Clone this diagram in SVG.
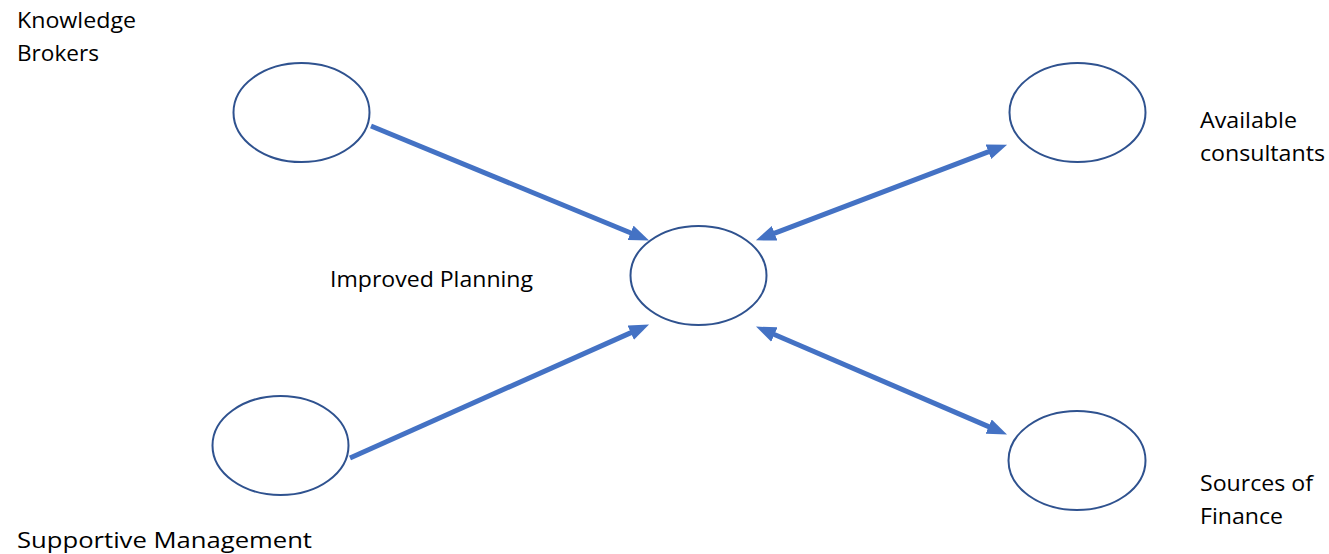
<svg xmlns="http://www.w3.org/2000/svg" width="1329" height="554" viewBox="0 0 1329 554">
  <style>
    .node { fill: #ffffff; stroke: #2f528f; stroke-width: 2; }
    .link { stroke: #4472c4; stroke-width: 5; fill: none; }
    .label { font-family: "Open Sans", "Liberation Sans", sans-serif; font-size: 21px; fill: #000000; }
  </style>
  <defs>
    <marker id="head" markerUnits="userSpaceOnUse" markerWidth="20" markerHeight="16" refX="8" refY="7" orient="auto-start-reverse" viewBox="0 0 18 14">
      <path d="M0,0 L18,7 L0,14 z" fill="#4472c4"/>
    </marker>
  </defs>

  <rect width="1329" height="554" fill="#ffffff"/>

  <g id="connectors">
    <line class="link" x1="371" y1="126" x2="638.8" y2="236.2" marker-end="url(#head)"/>
    <line class="link" x1="350" y1="458" x2="638.9" y2="329.1" marker-end="url(#head)"/>
    <line class="link" x1="766.3" y1="236.4" x2="996.7" y2="148.6" marker-start="url(#head)" marker-end="url(#head)"/>
    <line class="link" x1="766.2" y1="331.0" x2="996.8" y2="430.1" marker-start="url(#head)" marker-end="url(#head)"/>
  </g>

  <g id="knowledge-brokers">
    <ellipse class="node" cx="301.5" cy="112.5" rx="68" ry="49.5"/>
    <text class="label" x="17" y="28" textLength="119" lengthAdjust="spacingAndGlyphs">Knowledge</text>
    <text class="label" x="17" y="61" textLength="82" lengthAdjust="spacingAndGlyphs">Brokers</text>
  </g>

  <g id="improved-planning">
    <ellipse class="node" cx="698.5" cy="275.5" rx="68" ry="49.5"/>
    <text class="label" x="330" y="287" textLength="203" lengthAdjust="spacingAndGlyphs">Improved Planning</text>
  </g>

  <g id="available-consultants">
    <ellipse class="node" cx="1077.5" cy="112.5" rx="68" ry="49.5"/>
    <text class="label" x="1200" y="128" textLength="97" lengthAdjust="spacingAndGlyphs">Available</text>
    <text class="label" x="1200" y="161" textLength="125" lengthAdjust="spacingAndGlyphs">consultants</text>
  </g>

  <g id="supportive-management">
    <ellipse class="node" cx="280.5" cy="445.5" rx="68" ry="49.5"/>
    <text class="label" x="17" y="548" textLength="295" lengthAdjust="spacingAndGlyphs">Supportive Management</text>
  </g>

  <g id="sources-of-finance">
    <ellipse class="node" cx="1077" cy="460.5" rx="68.5" ry="49.5"/>
    <text class="label" x="1200" y="491" textLength="113" lengthAdjust="spacingAndGlyphs">Sources of</text>
    <text class="label" x="1200" y="524" textLength="83" lengthAdjust="spacingAndGlyphs">Finance</text>
  </g>
</svg>
